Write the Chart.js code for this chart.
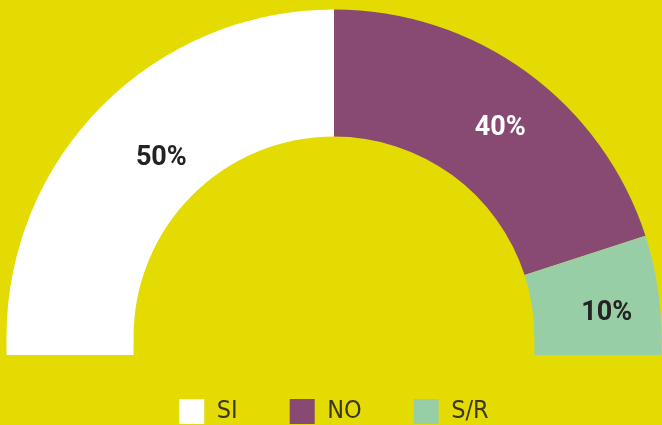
<!DOCTYPE html>
<html>
<head>
<meta charset="utf-8">
<script src="https://cdn.jsdelivr.net/npm/chart.js@4/dist/chart.umd.min.js"></script>
<style>
  html, body { margin: 0; padding: 0; background: #e3db02; overflow: hidden; }
  #wrap { width: 662px; height: 434px; }
</style>
</head>
<body>
<div id="wrap"><canvas id="chart" width="662" height="434"></canvas></div>
<script>
const categories = ["SI", "NO", "S/R"];
const shares = [50, 40, 10];
const shareLabels = ["50%", "40%", "10%"];

const sliceColors = ["#ffffff", "#884a72", "#98cea6"];
const labelColors = ["#232323", "#ffffff", "#232323"];
// small pixel nudges so the labels sit where the original put them
const labelNudge = [[14, 8], [11, 5], [12, 18]];
const legEdge = 18; // the straight "feet" under the half ring

const feetPlugin = {
  id: "halfRingFeet",
  afterDatasetsDraw(chart) {
    const arcs = chart.getDatasetMeta(0).data;
    if (!arcs.length) return;
    const { ctx } = chart;
    const first = arcs[0];
    const last = arcs[arcs.length - 1];
    ctx.save();
    ctx.fillStyle = first.options.backgroundColor;
    ctx.fillRect(first.x - first.outerRadius, first.y - 1, first.outerRadius - first.innerRadius, legEdge + 1);
    ctx.fillStyle = last.options.backgroundColor;
    ctx.fillRect(last.x + last.innerRadius, last.y - 1, last.outerRadius - last.innerRadius, legEdge + 1);
    ctx.restore();
  },
};

const shareLabelPlugin = {
  id: "shareLabels",
  afterDatasetsDraw(chart) {
    const { ctx } = chart;
    ctx.save();
    ctx.font = "bold 27px Roboto, sans-serif";
    ctx.textAlign = "center";
    ctx.textBaseline = "middle";
    chart.getDatasetMeta(0).data.forEach((arc, i) => {
      const pt = arc.getCenterPoint();
      ctx.fillStyle = labelColors[i];
      ctx.fillText(shareLabels[i], pt.x + labelNudge[i][0], pt.y + labelNudge[i][1]);
    });
    ctx.restore();
  },
};

new Chart(document.getElementById("chart"), {
  type: "doughnut",
  data: {
    labels: categories,
    datasets: [
      {
        data: shares,
        backgroundColor: sliceColors,
        borderWidth: 0,
        hoverOffset: 0,
      },
    ],
  },
  options: {
    responsive: false,
    animation: false,
    rotation: -90,
    circumference: 180,
    cutout: "61.2%",
    layout: {
      padding: { left: 6.5, right: 0.5, top: 9.5, bottom: 0 },
    },
    plugins: {
      legend: {
        position: "bottom",
        title: {
          display: true,
          text: "",
          padding: 0,
          font: { size: 10, lineHeight: 1 },
        },
        labels: {
          boxWidth: 25,
          boxHeight: 25,
          padding: 52,
          color: "#3a3920",
          font: {
            family: "'DejaVu Sans Condensed', 'Liberation Sans Narrow', sans-serif",
            size: 25,
            weight: "200",
          },
        },
      },
      tooltip: { enabled: false },
    },
  },
  plugins: [feetPlugin, shareLabelPlugin],
});
</script>
</body>
</html>
